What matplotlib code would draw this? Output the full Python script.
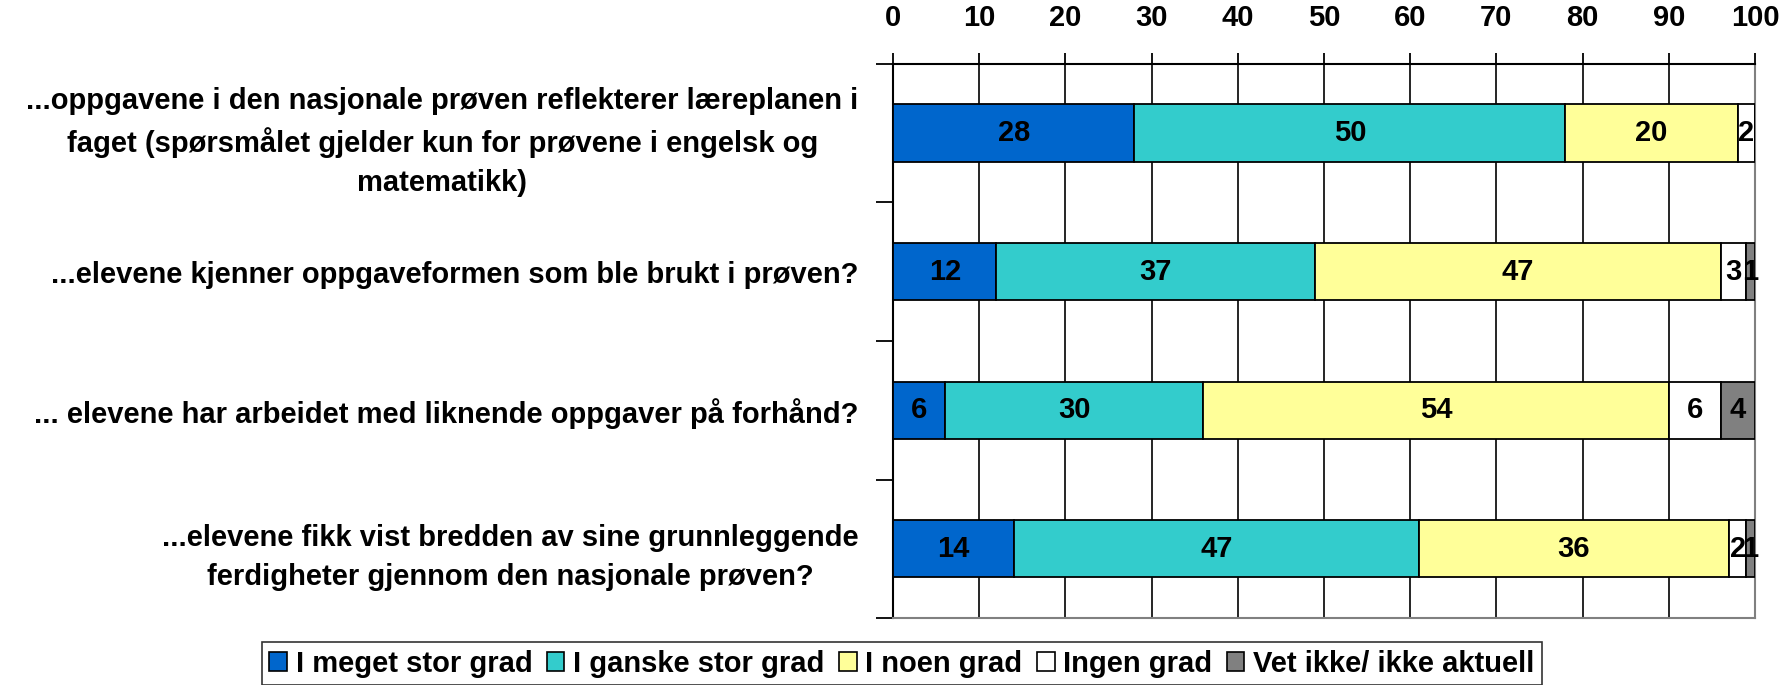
import matplotlib
matplotlib.use("Agg")
import matplotlib.pyplot as plt
from matplotlib.patches import Patch
import numpy as np

plt.rcParams['font.family'] = ['Liberation Sans', 'DejaVu Sans']
plt.rcParams['font.weight'] = 'bold'

# questions, top to bottom
questions = [
    "...oppgavene i den nasjonale prøven reflekterer læreplanen i\nfaget (spørsmålet gjelder kun for prøvene i engelsk og\nmatematikk)",
    "...elevene kjenner oppgaveformen som ble brukt i prøven?",
    "... elevene har arbeidet med liknende oppgaver på forhånd?",
    "...elevene fikk vist bredden av sine grunnleggende\nferdigheter gjennom den nasjonale prøven?",
]
series_names = ["I meget stor grad", "I ganske stor grad", "I noen grad",
                "Ingen grad", "Vet ikke/ ikke aktuell"]
meget_stor = [28, 12, 6, 14]
ganske_stor = [50, 37, 30, 47]
noen = [20, 47, 54, 36]
ingen = [2, 3, 6, 2]
vet_ikke = [0, 1, 4, 1]
series = [meget_stor, ganske_stor, noen, ingen, vet_ikke]
colors = ["#0066CC", "#33CCCC", "#FFFF99", "#FFFFFF", "#808080"]

fs = 21

fig = plt.figure(figsize=(17.79, 6.85), dpi=100)
ax = fig.add_axes([0.502, 0.0978, 0.9865 - 0.502, 0.9066 - 0.0978])

y = np.arange(len(questions))
left = np.zeros(len(questions))
for vals, col in zip(series, colors):
    vals = np.array(vals, dtype=float)
    ax.barh(y, vals, left=left, height=0.415, color=col, edgecolor='black',
            linewidth=1.3, zorder=3)
    for yi, v, l in zip(y, vals, left):
        if v > 0:
            ax.text(l + v / 2, yi, str(int(v)), ha='center', va='center',
                    fontsize=fs, fontweight='bold', zorder=4)
    left += vals

ax.set_xlim(0, 100)
ax.set_ylim(3.5, -0.5)
ax.set_xticks(np.arange(0, 101, 10))
ax.xaxis.tick_top()
ax.tick_params(axis='x', labelsize=fs, length=8, width=1.3, pad=15, direction='out')
for lab in ax.get_xticklabels():
    lab.set_fontweight('bold')
ax.grid(axis='x', color='black', linewidth=1.2, zorder=0)

ax.set_yticks(y)
ax.set_yticklabels(questions, fontsize=fs, fontweight='bold', multialignment='center',
                   linespacing=1.5)
ax.set_yticks(np.arange(-0.5, 3.6, 1), minor=True)
ax.tick_params(axis='y', which='major', length=0, pad=25)
ax.tick_params(axis='y', which='minor', length=12, width=1.3)

ax.spines['top'].set_color('black')
ax.spines['left'].set_color('black')
ax.spines['top'].set_linewidth(1.5)
ax.spines['left'].set_linewidth(1.5)
ax.spines['right'].set_color('#808080')
ax.spines['bottom'].set_color('#808080')
ax.spines['right'].set_linewidth(1.5)
ax.spines['bottom'].set_linewidth(1.5)

handles = [Patch(facecolor=c, edgecolor='black', linewidth=1.2) for c in colors]
leg = fig.legend(handles, series_names, loc='center', bbox_to_anchor=(0.507, 0.031),
                 ncol=5, fontsize=fs, frameon=True, fancybox=False,
                 handlelength=0.6, handleheight=0.6, handletextpad=0.3,
                 columnspacing=0.5, borderpad=0.25)
leg.get_frame().set_edgecolor('black')
leg.get_frame().set_linewidth(1.2)
for t in leg.get_texts():
    t.set_fontweight('bold')

fig.savefig("out.png", dpi=100)
